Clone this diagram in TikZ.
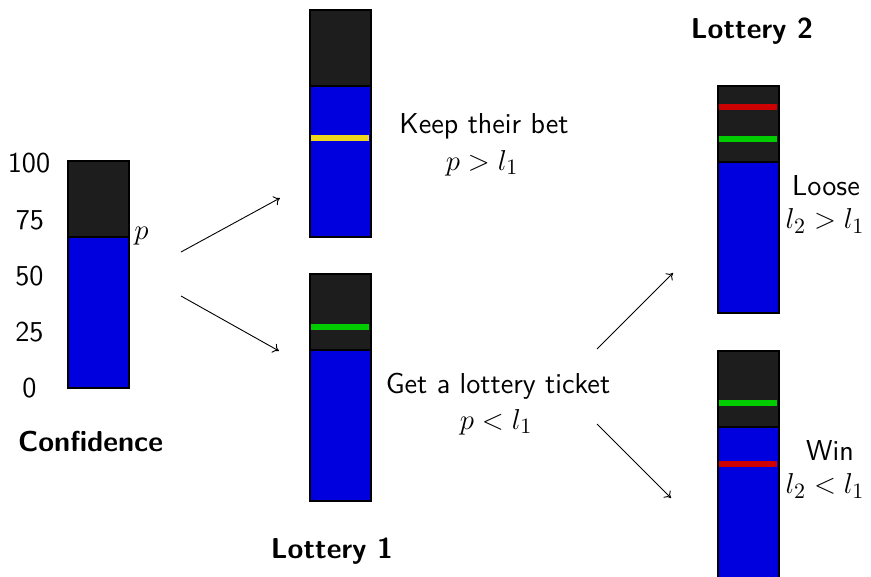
\documentclass[tikz,border=0pt]{standalone}
\usetikzlibrary{arrows.meta}
\definecolor{barblack}{RGB}{29,29,29}
\definecolor{barblue}{RGB}{0,0,222}
\definecolor{markyellow}{RGB}{238,214,30}
\definecolor{markgreen}{RGB}{0,204,0}
\definecolor{markred}{RGB}{204,0,0}
\begin{document}
\begin{tikzpicture}[x=0.5pt,y=-0.5pt,
  txt/.style={font=\sffamily\fontsize{14.4}{17}\selectfont, inner sep=0pt},
  ttl/.style={font=\sffamily\bfseries\fontsize{14.4}{17}\selectfont, inner sep=0pt},
  mth/.style={font=\fontsize{15.6}{18}\selectfont, inner sep=0pt},
  arr/.style={-{To[length=3pt,width=5pt]}, line width=0.45pt},
  levelline/.style={line width=2.6pt}]
\useasboundingbox (0,0) rectangle (871,577);

% bar: #1 = left x, #2 = top y, #3 = name
\newcommand\gaugebar[3]{%
  \fill[barblack] (#1,#2) rectangle ++(61,77);
  \fill[barblue] (#1,#2+77) rectangle ++(61,150);
  \draw[line width=1pt] (#1,#2+77) -- ++(61,0);
  \node[draw, line width=1pt, minimum width=30.5pt, minimum height=113.5pt,
        anchor=north west, inner sep=0pt] (#3) at (#1,#2) {};
}

% Confidence gauge
\gaugebar{67}{160}{conf}
\node[txt] (t100) at (29,163) {100};
\node[txt] (t75) at (30,220) {75};
\node[txt] (t50) at (29.5,276) {50};
\node[txt] (t25) at (29.5,332) {25};
\node[txt] (t0) at (29.5,388) {0};
\node[mth, anchor=west] (plab) at (134,236) {$p$};
\node[ttl] (confttl) at (90.5,441) {Confidence};

% Lottery 1
\gaugebar{309}{9}{keep}
\draw[levelline, markyellow] (310.5,138) -- (368.5,138);
\gaugebar{309}{273}{ticket}
\draw[levelline, markgreen] (310.5,327) -- (368.5,327);
\node[ttl] (l1ttl) at (332,551) {Lottery 1};
\node[txt] (keeptxt) at (484,126) {Keep their bet};
\node[mth] (keepmth) at (482,163) {$p>l_1$};
\node[txt] (tickettxt) at (498,386) {Get a lottery ticket};
\node[mth] (ticketmth) at (496,422) {$p<l_1$};

% Lottery 2
\gaugebar{717}{85}{loose}
\draw[levelline, markred] (718.5,107) -- (776.5,107);
\draw[levelline, markgreen] (718.5,139) -- (776.5,139);
\gaugebar{717}{350}{win}
\draw[levelline, markgreen] (718.5,403) -- (776.5,403);
\draw[levelline, markred] (718.5,464) -- (776.5,464);
\node[ttl] (l2ttl) at (752,31) {Lottery 2};
\node[txt] (loosetxt) at (826,186) {Loose};
\node[mth] (loosemth) at (825,221) {$l_2>l_1$};
\node[txt] (wintxt) at (830,451) {Win};
\node[mth] (winmth) at (825,486) {$l_2<l_1$};

% connectors
\coordinate (a1s) at (181,252); \coordinate (a1e) at (280,198);
\coordinate (a2s) at (181,296); \coordinate (a2e) at (279,351);
\coordinate (a3s) at (597,349); \coordinate (a3e) at (673,273);
\coordinate (a4s) at (597,424); \coordinate (a4e) at (671,498);
\draw[arr] (a1s) -- (a1e);
\draw[arr] (a2s) -- (a2e);
\draw[arr] (a3s) -- (a3e);
\draw[arr] (a4s) -- (a4e);
\end{tikzpicture}
\end{document}
